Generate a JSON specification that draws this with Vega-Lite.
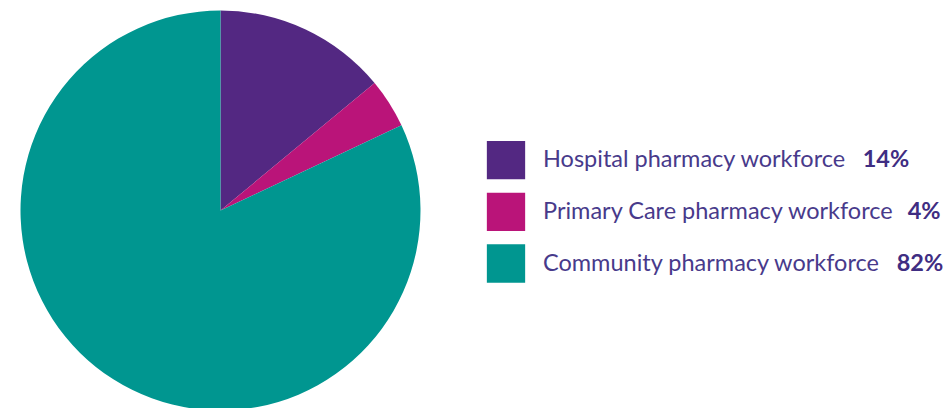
{
  "$schema": "https://vega.github.io/schema/vega-lite/v6.json",
  "padding": 0,
  "spacing": 0,
  "background": "white",
  "config": {"view": {"stroke": null}, "font": "Lato"},
  "data": {"values": [
    {"category": "Hospital pharmacy workforce", "pct": 14, "label": "14%", "order": 1},
    {"category": "Primary Care pharmacy workforce", "pct": 4, "label": "4%", "order": 2},
    {"category": "Community pharmacy workforce", "pct": 82, "label": "82%", "order": 3}
  ]},
  "hconcat": [
    {
      "width": 441,
      "height": 421,
      "mark": {"type": "arc", "outerRadius": 200, "stroke": null},
      "encoding": {
        "theta": {"field": "pct", "type": "quantitative", "stack": true},
        "order": {"field": "order", "type": "quantitative"},
        "color": {
          "field": "category", "type": "nominal",
          "scale": {
            "domain": ["Hospital pharmacy workforce", "Primary Care pharmacy workforce", "Community pharmacy workforce"],
            "range": ["#532882", "#ba1479", "#009690"]
          },
          "legend": null
        }
      }
    },
    {
      "width": 510,
      "height": 421,
      "encoding": {
        "y": {
          "field": "category", "type": "nominal",
          "sort": {"field": "order"},
          "scale": {"type": "point", "range": [160.2, 263.5], "padding": 0},
          "axis": null
        }
      },
      "layer": [
        {
          "mark": {"type": "square", "x": 65, "size": 1467, "opacity": 1, "filled": true},
          "encoding": {
            "color": {
              "field": "category", "type": "nominal",
              "scale": {
                "domain": ["Hospital pharmacy workforce", "Primary Care pharmacy workforce", "Community pharmacy workforce"],
                "range": ["#532882", "#ba1479", "#009690"]
              },
              "legend": null
            }
          }
        },
        {
          "mark": {"type": "text", "x": 102, "align": "left", "baseline": "middle", "fontSize": 23.5, "color": "#483a8b"},
          "encoding": {"text": {"field": "category"}}
        },
        {
          "transform": [{"filter": "datum.order == 1"}],
          "mark": {"type": "text", "x": 421.7, "align": "left", "baseline": "middle", "fontSize": 23.5, "fontWeight": "bold", "color": "#3f2d82"},
          "encoding": {"text": {"field": "label"}}
        },
        {
          "transform": [{"filter": "datum.order == 2"}],
          "mark": {"type": "text", "x": 466.7, "align": "left", "baseline": "middle", "fontSize": 23.5, "fontWeight": "bold", "color": "#3f2d82"},
          "encoding": {"text": {"field": "label"}}
        },
        {
          "transform": [{"filter": "datum.order == 3"}],
          "mark": {"type": "text", "x": 455.7, "align": "left", "baseline": "middle", "fontSize": 23.5, "fontWeight": "bold", "color": "#3f2d82"},
          "encoding": {"text": {"field": "label"}}
        }
      ]
    }
  ]
}
